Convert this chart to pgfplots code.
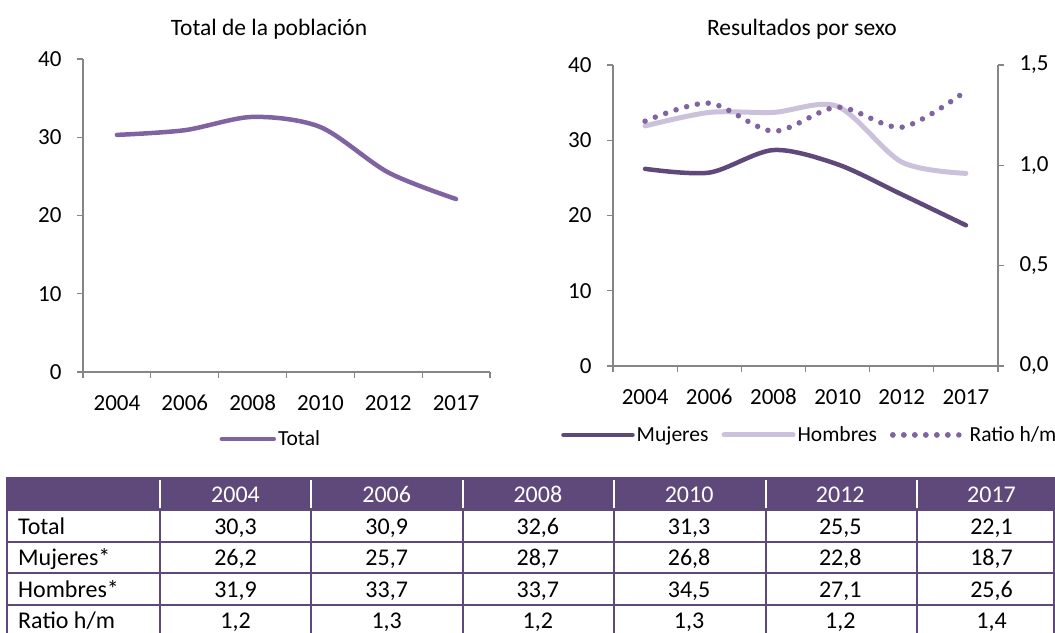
\documentclass[border=0pt]{standalone}
\usepackage{pgfplots}
\pgfplotsset{compat=1.18}
\usepackage{fontspec}
\setmainfont{Carlito}
\definecolor{cTotal}{HTML}{8064A2}
\definecolor{cMuj}{HTML}{5F497A}
\definecolor{cHom}{HTML}{CCC1DA}
\definecolor{cAxis}{HTML}{868686}
\definecolor{cHead}{HTML}{5F497A}
\pgfplotsset{
  base/.style={
    scale only axis,
    xmin=-0.5, xmax=5.5,
    ymin=0, ymax=40,
    axis x line*=bottom, axis y line*=left,
    axis line style={cAxis, line width=1.2bp},
    every tick/.style={cAxis, line width=1.2bp},
    xtick={0,...,5},
    xticklabels={2004,2006,2008,2010,2012,2017},
    major x tick style={draw=none},
    minor xtick={-0.5,0.5,...,5.5},
    minor tick length=6bp,
    major tick length=6bp,
    tick align=outside,
    ytick={0,10,...,40},
    /pgf/number format/assume math mode=true,
    tick label style={font=\fontsize{23bp}{27bp}\selectfont, text=black},
    xticklabel style={anchor=base, yshift=-32bp},
    yticklabel style={xshift=-12bp},
    clip=false,
  },
  shortleg/.style={legend image code/.code={\draw[##1] (0bp,0bp) -- (58bp,0bp); \path (0bp,0bp) -- (72bp,0bp);}},
}
\begin{document}
\begin{tikzpicture}
\useasboundingbox (0,0) rectangle (1055bp,-633bp);
% titles
\node[font=\fontsize{23.5bp}{28bp}\selectfont] at (269bp,-29bp) {Total de la población};
\node[font=\fontsize{23.5bp}{28bp}\selectfont] at (802bp,-29bp) {Resultados por sexo};
% left chart
\begin{axis}[base,
  at={(83bp,-372bp)}, anchor=south west,
  width=407bp, height=313bp,
  legend style={at={(axis description cs:0.335,-0.214)}, anchor=west, draw=none, fill=none,
    font=\fontsize{21.5bp}{25bp}\selectfont, inner sep=0pt, nodes={inner sep=2bp}},
  legend image code/.code={\draw[#1] (0bp,0bp) -- (52bp,0bp);},
]
\addplot[cTotal, line width=4.5bp, smooth, tension=0.5, line cap=round] coordinates {(0,30.3)(1,30.9)(2,32.6)(3,31.3)(4,25.5)(5,22.1)};
\addlegendentry{Total}
\end{axis}
% right chart (left y axis)
\begin{axis}[base,
  at={(613bp,-366bp)}, anchor=south west,
  width=385bp, height=301bp,
]
\addplot[cHom, line width=5bp, smooth, tension=0.5, line cap=round] coordinates {(0,31.9)(1,33.7)(2,33.7)(3,34.5)(4,27.1)(5,25.6)};
\addplot[cMuj, line width=4.5bp, smooth, tension=0.5, line cap=round] coordinates {(0,26.2)(1,25.7)(2,28.7)(3,26.8)(4,22.8)(5,18.7)};
\end{axis}
% right chart (right y axis)
\begin{axis}[
  scale only axis,
  at={(613bp,-366bp)}, anchor=south west,
  width=385bp, height=301bp,
  xmin=-0.5, xmax=5.5, ymin=0, ymax=1.5,
  axis x line=none, axis y line*=right,
  axis line style={cAxis, line width=1.2bp},
  every tick/.style={cAxis, line width=1.2bp},
  ytick={0,0.5,1,1.5},
  major tick length=6bp, tick align=outside,
  /pgf/number format/.cd, fixed, fixed zerofill, precision=1, use comma, assume math mode=true,
  /pgfplots/.cd,
  tick label style={font=\fontsize{23bp}{27bp}\selectfont, text=black},
  yticklabel style={xshift=12bp},
  clip=false,
  legend columns=3,
  legend style={at={(axis description cs:-0.135,-0.229)}, anchor=west, draw=none, fill=none,
    font=\fontsize{21.5bp}{25bp}\selectfont, inner sep=0pt, nodes={inner sep=2bp},
    /tikz/every odd column/.style={column sep=0bp},
    /tikz/every even column/.style={column sep=11bp}},
  legend image code/.code={\draw[#1] (0bp,0bp) -- (69bp,0bp);},
]
\addlegendimage{cMuj, line width=4.5bp, line cap=round}
\addlegendentry{Mujeres}
\addlegendimage{cHom, line width=5bp, line cap=round}
\addlegendentry{Hombres}
\addplot[cTotal, line width=5.5bp, smooth, tension=0.5, line cap=round, dash pattern=on 0bp off 11bp, shortleg] coordinates {(0,1.22)(1,1.31)(2,1.17)(3,1.29)(4,1.19)(5,1.37)};
\addlegendentry{Ratio h/m}
\end{axis}
% table
\begin{scope}[x=1bp, y=-1bp]
\fill[cHead] (7,477) rectangle (1055,511);
\foreach \xx in {160,311,463,614,766,917} {
  \draw[white, line width=1.5bp] (\xx,480) -- (\xx,508);
  \draw[cHead, line width=1.5bp] (\xx,511) -- (\xx,640);
}
\draw[cHead, line width=1.5bp] (7,477) -- (7,640);
\draw[cHead, line width=1.5bp] (1054,477) -- (1054,640);
\foreach \yy in {542,573,605,636} {
  \draw[cHead, line width=1.5bp] (7,\yy) -- (1055,\yy);
}
\tikzset{tt/.style={font=\fontsize{24bp}{28bp}\selectfont, inner sep=0pt, anchor=base}}
% header
\foreach \lab [count=\i from 0] in {2004,2006,2008,2010,2012,2017} {
  \node[tt, text=white] at ({235.5+151.2*\i},502) {\lab};
}
% row labels
\node[tt, anchor=base west] at (18,534.5) {Total};
\node[tt, anchor=base west] at (18,565.5) {Mujeres*};
\node[tt, anchor=base west] at (18,597) {Hombres*};
\node[tt, anchor=base west] at (18,628.5) {Ratio h/m};
\foreach \v [count=\i from 0] in {30{,}3,30{,}9,32{,}6,31{,}3,25{,}5,22{,}1} {\node[tt] at ({235.5+151.2*\i},534.5) {\v};}
\foreach \v [count=\i from 0] in {26{,}2,25{,}7,28{,}7,26{,}8,22{,}8,18{,}7} {\node[tt] at ({235.5+151.2*\i},565.5) {\v};}
\foreach \v [count=\i from 0] in {31{,}9,33{,}7,33{,}7,34{,}5,27{,}1,25{,}6} {\node[tt] at ({235.5+151.2*\i},597) {\v};}
\foreach \v [count=\i from 0] in {1{,}2,1{,}3,1{,}2,1{,}3,1{,}2,1{,}4} {\node[tt] at ({235.5+151.2*\i},628.5) {\v};}
\end{scope}
\end{tikzpicture}
\end{document}
